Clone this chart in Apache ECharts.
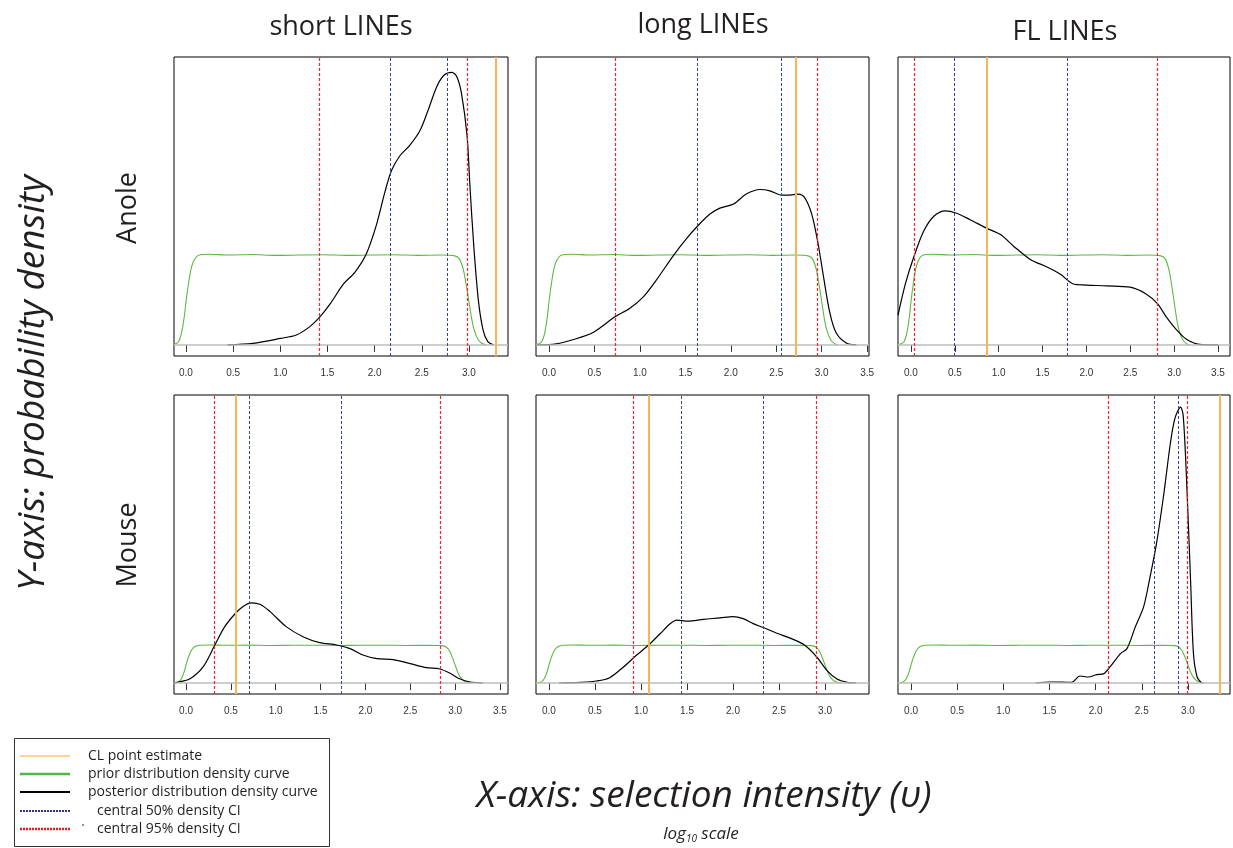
<!DOCTYPE html>
<html>
<head>
<meta charset="utf-8">
<script src="https://cdn.jsdelivr.net/npm/echarts@6.0.0/dist/echarts.min.js"></script>
<style>
html, body { margin: 0; padding: 0; background: #fff; }
#main { width: 1233px; height: 848px; }
</style>
</head>
<body>
<div id="main"></div>
<script>
// --- data (x: log10 selection intensity, y: density) ---
var colTitles = ['short LINEs', 'long LINEs', 'FL LINEs'];
var rowTitles = ['Anole', 'Mouse'];

// prior (uniform 0..3, smoothed) - same in every panel
var priorX = [-0.20, -0.12, -0.08, -0.05, -0.02, 0.00, 0.03, 0.06, 0.10, 0.15, 0.25, 0.45, 0.70, 0.95, 1.20, 1.45, 1.70, 1.95, 2.20, 2.45, 2.70, 2.85, 2.90, 2.94, 2.97, 3.00, 3.03, 3.06, 3.10, 3.14, 3.18];
var priorY = [0.000, 0.003, 0.012, 0.040, 0.100, 0.160, 0.235, 0.290, 0.322, 0.334, 0.336, 0.333, 0.335, 0.332, 0.333, 0.334, 0.332, 0.333, 0.334, 0.332, 0.333, 0.330, 0.318, 0.280, 0.225, 0.160, 0.095, 0.050, 0.018, 0.005, 0.000];

// posterior curves
var anoleShortX = [0.44, 0.71, 1.00, 1.17, 1.31, 1.42, 1.53, 1.67, 1.79, 1.91, 2.02, 2.11, 2.18, 2.27, 2.37, 2.48, 2.57, 2.66, 2.74, 2.82, 2.87, 2.92, 2.98, 3.01, 3.05, 3.10, 3.15, 3.20, 3.26];
var anoleShortY = [0.000, 0.006, 0.024, 0.037, 0.067, 0.104, 0.153, 0.226, 0.269, 0.336, 0.446, 0.568, 0.647, 0.702, 0.739, 0.794, 0.873, 0.958, 1.001, 1.010, 0.995, 0.934, 0.775, 0.592, 0.372, 0.165, 0.055, 0.012, 0.000];
var anoleLongX = [-0.14, 0.08, 0.27, 0.49, 0.73, 0.89, 1.04, 1.18, 1.37, 1.51, 1.63, 1.77, 1.88, 2.03, 2.17, 2.32, 2.43, 2.56, 2.63, 2.74, 2.81, 2.89, 2.96, 3.02, 3.09, 3.16, 3.27, 3.38];
var anoleLongY = [0.000, 0.004, 0.020, 0.047, 0.105, 0.136, 0.179, 0.240, 0.332, 0.393, 0.439, 0.485, 0.507, 0.522, 0.559, 0.576, 0.571, 0.555, 0.555, 0.559, 0.547, 0.485, 0.375, 0.252, 0.118, 0.044, 0.007, 0.000];
var anoleFlX = [-0.148, -0.064, 0.03, 0.144, 0.258, 0.39, 0.52, 0.675, 0.86, 1.02, 1.17, 1.36, 1.55, 1.70, 1.85, 2.00, 2.23, 2.50, 2.68, 2.81, 2.91, 3.03, 3.14, 3.29, 3.50];
var anoleFlY = [0.110, 0.226, 0.324, 0.421, 0.476, 0.497, 0.488, 0.464, 0.433, 0.409, 0.366, 0.317, 0.289, 0.263, 0.226, 0.222, 0.219, 0.214, 0.189, 0.153, 0.104, 0.055, 0.021, 0.002, 0.000];
var mouseShortX = [-0.134, -0.10, 0.045, 0.19, 0.32, 0.43, 0.55, 0.64, 0.73, 0.83, 0.94, 1.12, 1.31, 1.49, 1.68, 1.83, 1.98, 2.13, 2.31, 2.50, 2.68, 2.83, 2.94, 3.05, 3.17, 3.31];
var mouseShortY = [0.003, 0.006, 0.038, 0.142, 0.333, 0.496, 0.614, 0.678, 0.708, 0.693, 0.628, 0.496, 0.407, 0.357, 0.336, 0.304, 0.245, 0.215, 0.206, 0.171, 0.136, 0.124, 0.088, 0.038, 0.009, 0.000];
var mouseLongX = [0.11, 0.34, 0.52, 0.66, 0.81, 0.95, 1.08, 1.21, 1.32, 1.39, 1.51, 1.68, 1.86, 2.00, 2.11, 2.22, 2.33, 2.47, 2.66, 2.78, 2.91, 3.02, 3.13, 3.24, 3.34];
var mouseLongY = [0.000, 0.006, 0.018, 0.047, 0.142, 0.245, 0.333, 0.437, 0.525, 0.555, 0.546, 0.563, 0.575, 0.587, 0.569, 0.525, 0.490, 0.442, 0.383, 0.333, 0.230, 0.112, 0.035, 0.006, 0.000];
var mouseFlX = [1.35, 1.51, 1.74, 1.83, 1.92, 2.01, 2.09, 2.16, 2.27, 2.34, 2.43, 2.52, 2.59, 2.66, 2.74, 2.81, 2.86, 2.92, 2.95, 2.99, 3.03, 3.06, 3.10, 3.15];
var mouseFlY = [0.000, 0.009, 0.006, 0.062, 0.053, 0.074, 0.083, 0.147, 0.260, 0.304, 0.496, 0.673, 0.938, 1.233, 1.676, 2.118, 2.339, 2.437, 2.354, 1.705, 0.879, 0.260, 0.053, 0.000];

// vertical markers: central 95% CI, central 50% CI, CL point estimate
var ci95 = [[1.41, 2.98], [0.73, 2.95], [0.04, 2.81], [0.32, 2.84], [0.92, 2.90], [2.14, 2.99]];
var ci50 = [[2.17, 2.77], [1.63, 2.56], [0.49, 1.78], [0.71, 1.73], [1.44, 2.33], [2.63, 2.90]];
var clEstimate = [3.28, 2.71, 0.86, 0.55, 1.08, 3.34];

// tick labels
var ticksTo30 = [0, 0.5, 1, 1.5, 2, 2.5, 3];
var ticksTo35 = [0, 0.5, 1, 1.5, 2, 2.5, 3, 3.5];

// --- layout ---
var colLeft = [174, 536, 898];
var colWidth = [334, 333, 332];
var rowTop = [57, 395];
var panelHeight = 299;
var xRange = [[-0.127, 3.414], [-0.143, 3.52], [-0.148, 3.637], [-0.134, 3.59], [-0.141, 3.478], [-0.141, 3.456]];
var yRange = [[-0.041, 1.067], [-0.097, 2.544]];

var posteriors = [
    [anoleShortX, anoleShortY], [anoleLongX, anoleLongY], [anoleFlX, anoleFlY],
    [mouseShortX, mouseShortY], [mouseLongX, mouseLongY], [mouseFlX, mouseFlY]
];
var panelTicks = [ticksTo30, ticksTo35, ticksTo35, ticksTo35, ticksTo30, ticksTo30];

function pairs(xs, ys) {
    var out = [];
    for (var k = 0; k < xs.length; k++) out.push([xs[k], ys[k]]);
    return out;
}

var font = 'Open Sans';
var ink = '#231f20';
var grids = [], xAxes = [], yAxes = [], series = [];

for (var i = 0; i < 6; i++) {
    var row = Math.floor(i / 3), col = i % 3;
    grids.push({
        left: colLeft[col], top: rowTop[row], width: colWidth[col], height: panelHeight,
        show: true, borderColor: '#000', borderWidth: 1, backgroundColor: 'transparent'
    });
    xAxes.push({
        gridIndex: i, type: 'value', min: xRange[i][0], max: xRange[i][1],
        axisLine: {show: false},
        axisTick: {show: true, length: 7, customValues: panelTicks[i], lineStyle: {color: '#333', width: 1}},
        axisLabel: {
            customValues: panelTicks[i], margin: 12, fontSize: 10, color: '#333',
            fontFamily: 'Liberation Sans',
            formatter: function (v) { return v.toFixed(1); }
        },
        splitLine: {show: false}
    });
    yAxes.push({gridIndex: i, type: 'value', min: yRange[row][0], max: yRange[row][1], show: false});

    // grey zero line
    series.push({
        type: 'line', xAxisIndex: i, yAxisIndex: i, data: [], z: 1, silent: true,
        markLine: {
            silent: true, animation: false, symbol: ['none', 'none'], label: {show: false},
            emphasis: {disabled: true},
            lineStyle: {color: '#bdbdbd', width: 1.5, type: 'solid'},
            data: [{yAxis: 0}]
        }
    });
    // prior
    series.push({
        type: 'line', xAxisIndex: i, yAxisIndex: i, data: pairs(priorX, priorY),
        showSymbol: false, smooth: 0.3, z: 2, silent: true,
        lineStyle: {color: '#5db83f', width: 1.1}
    });
    // posterior
    series.push({
        type: 'line', xAxisIndex: i, yAxisIndex: i, data: pairs(posteriors[i][0], posteriors[i][1]),
        showSymbol: false, smooth: 0.3, z: 3, silent: true,
        lineStyle: {color: '#000', width: 1.2}
    });
    // CI and CL vertical lines
    var vlines = [];
    ci95[i].forEach(function (v) {
        vlines.push({xAxis: v, lineStyle: {color: '#f0262a', width: 1.2, type: [3, 2]}});
    });
    ci50[i].forEach(function (v) {
        vlines.push({xAxis: v, lineStyle: {color: '#3344a8', width: 1, type: [3, 2]}});
    });
    vlines.push({xAxis: clEstimate[i], lineStyle: {color: '#f8b555', width: 2, type: 'solid'}});
    series.push({
        type: 'line', xAxisIndex: i, yAxisIndex: i, data: [], z: 5, silent: true,
        markLine: {
            silent: true, animation: false, symbol: ['none', 'none'], label: {show: false},
            emphasis: {disabled: true}, data: vlines
        }
    });
}

var graphics = [];
var titleX = [341, 703, 1065];
var titleY = [27, 25, 32];
colTitles.forEach(function (t, c) {
    graphics.push({type: 'text', x: titleX[c], y: titleY[c],
        style: {text: t, fontSize: 27, fontFamily: font, fill: ink, align: 'center', verticalAlign: 'middle'}});
});
var rowY = [208, 545];
rowTitles.forEach(function (t, r) {
    graphics.push({type: 'text', x: 128, y: rowY[r], rotation: Math.PI / 2,
        style: {text: t, fontSize: 27, fontFamily: font, fill: ink, align: 'center', verticalAlign: 'middle'}});
});
graphics.push({type: 'text', x: 33, y: 383, rotation: Math.PI / 2,
    style: {text: 'Y-axis: probability density', fontSize: 37, fontStyle: 'italic', fontFamily: font,
        fill: ink, align: 'center', verticalAlign: 'middle'}});
graphics.push({type: 'text', x: 704, y: 796,
    style: {text: 'X-axis: selection intensity (\u03c5)', fontSize: 37, fontStyle: 'italic', fontFamily: font,
        fill: ink, align: 'center', verticalAlign: 'middle'}});
graphics.push({type: 'text', x: 701, y: 834,
    style: {text: '{a|log}{s|10}{a| scale}', align: 'center', verticalAlign: 'middle',
        rich: {
            a: {fontSize: 17, fontStyle: 'italic', fontFamily: font, fill: ink, lineHeight: 20, verticalAlign: 'middle'},
            s: {fontSize: 10, fontStyle: 'italic', fontFamily: font, fill: ink, lineHeight: 10, verticalAlign: 'bottom'}
        }}});

// legend box
graphics.push({type: 'rect', shape: {x: 14.5, y: 738.5, width: 315, height: 108},
    style: {fill: '#fff', stroke: '#333', lineWidth: 1}});
var legendItems = [
    {text: 'CL point estimate', color: '#f7a823', width: 1, dash: null, tx: 88},
    {text: 'prior distribution density curve', color: '#4cb848', width: 2.5, dash: null, tx: 88},
    {text: 'posterior distribution density curve', color: '#000', width: 2, dash: null, tx: 88},
    {text: 'central 50% density CI', color: '#2e3192', width: 2, dash: [2, 1], tx: 97},
    {text: 'central 95% density CI', color: '#ed1c24', width: 2.5, dash: [2, 1], tx: 97}
];
var legendRowY = [756, 774, 792, 811, 829];
legendItems.forEach(function (it, k) {
    graphics.push({type: 'line', shape: {x1: 20, y1: legendRowY[k], x2: 70, y2: legendRowY[k]},
        style: {stroke: it.color, lineWidth: it.width, lineDash: it.dash}});
    graphics.push({type: 'text', x: it.tx, y: legendRowY[k],
        style: {text: it.text, fontSize: 14, fontFamily: font, fill: ink, align: 'left', verticalAlign: 'middle'}});
});
graphics.push({type: 'circle', shape: {cx: 83, cy: 825, r: 0.8}, style: {fill: '#000'}});

var myChart = echarts.init(document.getElementById('main'));
myChart.setOption({
    animation: false,
    backgroundColor: '#fff',
    grid: grids,
    xAxis: xAxes,
    yAxis: yAxes,
    series: series,
    graphic: graphics
});
</script>
</body>
</html>
